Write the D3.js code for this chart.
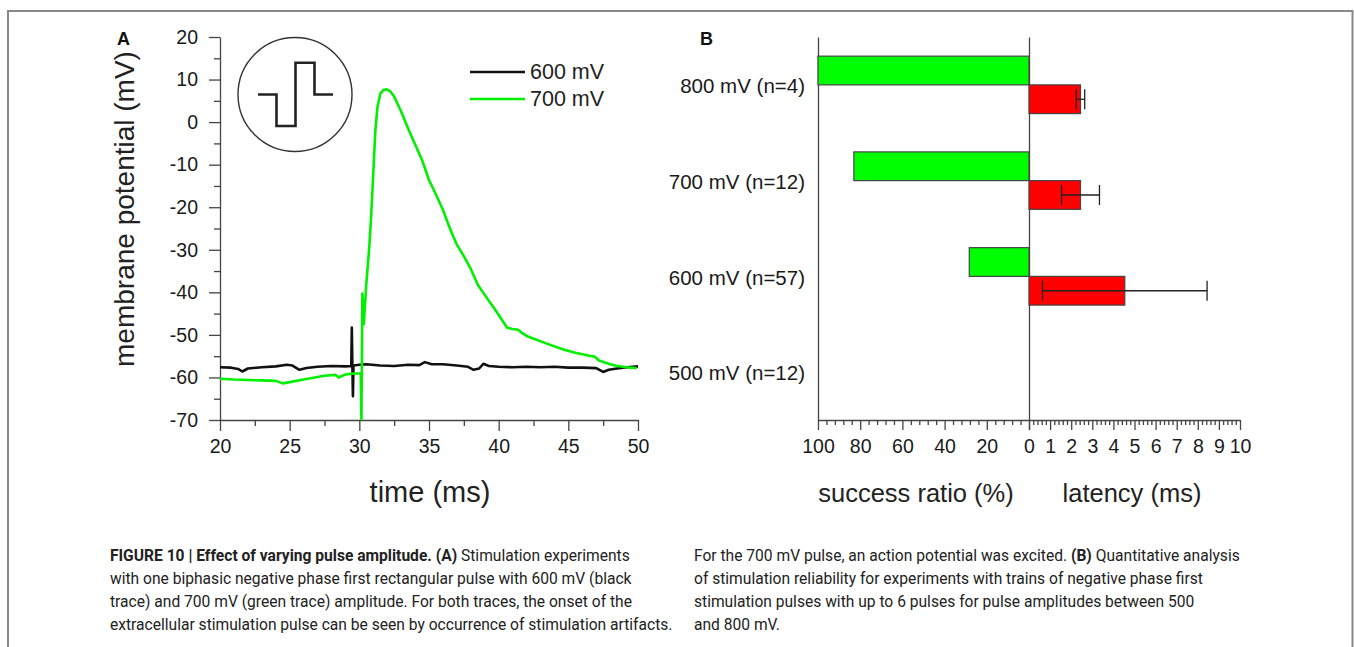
<!DOCTYPE html>
<html>
<head>
<meta charset="utf-8">
<script src="https://cdn.jsdelivr.net/npm/d3@7"></script>
<style>
  body { margin: 0; background: #fff; }
  svg { display: block; font-family: "Liberation Sans", Arial, sans-serif; }
  .axis path, .axis line { stroke: #444; stroke-width: 1.3; }
  .axis text { fill: #1a1a1a; font-family: "Liberation Sans", Arial, sans-serif; }
  .caption { font-family: Roboto, "Liberation Sans", sans-serif; font-size: 15.6px; fill: #222; }
</style>
</head>
<body>
<svg id="chart" width="1354" height="647"></svg>
<script>
// panel A: recorded traces, [time (ms), membrane potential (mV)]
var trace600 = [
  [20, -57.6], [20.8, -57.7], [21.3, -58.0], [21.6, -58.6], [22.0, -57.9], [23, -57.6],
  [24, -57.4], [24.8, -57.0], [25.2, -57.2], [25.7, -58.2], [26.2, -57.8], [27, -57.5],
  [28, -57.3], [29, -57.4], [29.42, -57.3], [29.46, -48.3], [29.5, -57.0], [29.54, -64.4],
  [29.58, -57.2], [30, -57.0], [30.5, -56.9], [31.5, -57.2], [32.5, -57.3], [33.5, -57.0],
  [34.3, -57.1], [34.7, -56.4], [35.2, -56.9], [36, -56.9], [37, -57.2], [37.8, -57.5],
  [38.2, -58.2], [38.6, -57.9], [38.9, -56.8], [39.3, -57.3], [40, -57.5], [41, -57.6],
  [42, -57.5], [43, -57.6], [44, -57.5], [45, -57.7], [46, -57.7], [47, -57.8],
  [47.5, -58.7], [47.9, -58.2], [48.5, -57.9], [49.2, -57.6], [50, -57.4]
];
var trace700 = [
  [20, -60.3], [21, -60.5], [22, -60.6], [23, -60.7], [24, -60.8], [24.5, -61.4],
  [25, -61.1], [26, -60.5], [27, -59.9], [27.5, -59.6], [28.3, -59.4], [28.5, -60.0],
  [29, -59.3], [29.5, -59.1], [30.1, -59.0], [30.15, -69.8], [30.22, -40.3], [30.32, -47.5],
  [30.5, -38], [30.7, -30], [30.85, -22], [31.0, -12], [31.15, -2], [31.3, 3.5],
  [31.5, 6.6], [31.7, 7.5], [31.95, 7.7], [32.2, 7.3], [32.5, 6.0], [33, 2.5],
  [33.5, -1.5], [34, -5.2], [34.5, -8.9], [35, -13.6], [35.5, -17], [36, -20.6],
  [36.5, -25], [37, -28.8], [37.5, -31.5], [38, -34.5], [38.5, -38.2], [39, -40.6],
  [39.6, -43.4], [40.1, -45.8], [40.6, -48.3], [41.0, -48.6], [41.4, -48.8], [41.7, -49.6],
  [42.1, -50.4], [43.4, -52], [44.7, -53.5], [45.5, -54.2], [46.5, -54.9], [46.9, -55.1],
  [47.2, -56.0], [48, -56.9], [48.5, -57.3], [49.2, -57.6], [49.9, -57.8]
];
var traceNames = ["600 mV", "700 mV"];
var traceColors = ["#111111", "#00f000"];
var timeTicks = [20, 25, 30, 35, 40, 45, 50];
var mvTicks = [-70, -60, -50, -40, -30, -20, -10, 0, 10, 20];

// panel B: stimulation reliability per pulse amplitude
var amplitudes = ["800 mV (n=4)", "700 mV (n=12)", "600 mV (n=57)", "500 mV (n=12)"];
var successRatio = [100, 83, 28.3, 0];
var latency = [2.44, 2.44, 4.54, null];
var latencySd = [0.2, 0.9, 3.9, null];
var ratioTicks = [100, 80, 60, 40, 20, 0];
var latencyTicks = [0, 1, 2, 3, 4, 5, 6, 7, 8, 9, 10];

var captionLeft = [
  [["FIGURE 10 | Effect of varying pulse amplitude. (A)", true], [" Stimulation experiments", false]],
  [["with one biphasic negative phase first rectangular pulse with 600 mV (black", false]],
  [["trace) and 700 mV (green trace) amplitude. For both traces, the onset of the", false]],
  [["extracellular stimulation pulse can be seen by occurrence of stimulation artifacts.", false]]
];
var captionRight = [
  [["For the 700 mV pulse, an action potential was excited. ", false], ["(B)", true], [" Quantitative analysis", false]],
  [["of stimulation reliability for experiments with trains of negative phase first", false]],
  [["stimulation pulses with up to 6 pulses for pulse amplitudes between 500", false]],
  [["and 800 mV.", false]]
];

var svg = d3.select("#chart");
svg.append("rect").attr("width", 1354).attr("height", 647).attr("fill", "#fff");

// figure frame
svg.append("path")
  .attr("d", "M8,647V11H1352.5V647")
  .attr("fill", "none").attr("stroke", "#888").attr("stroke-width", 2);

function fmt(d) { return String(d); }
function styleText(g, size) {
  g.selectAll("text").attr("font-size", size);
}

// ---------- panel A ----------
var xA = d3.scaleLinear().domain([20, 50]).range([220, 638]);
var yA = d3.scaleLinear().domain([-70, 20]).range([420, 37]);

var gyA = svg.append("g").attr("class", "axis").attr("transform", "translate(220,0)")
  .call(d3.axisLeft(yA).tickValues(mvTicks).tickSize(11).tickSizeOuter(0).tickPadding(11).tickFormat(fmt));
styleText(gyA, 19.5);
svg.append("g").attr("class", "axis").attr("transform", "translate(220,0)")
  .call(d3.axisLeft(yA).tickValues(d3.range(-65, 20, 10)).tickSize(6).tickFormat(""))
  .select(".domain").remove();

var gxA = svg.append("g").attr("class", "axis").attr("transform", "translate(0,420)")
  .call(d3.axisBottom(xA).tickValues(timeTicks).tickSize(11).tickSizeOuter(0).tickPadding(8).tickFormat(fmt));
styleText(gxA, 19.5);
svg.append("g").attr("class", "axis").attr("transform", "translate(0,420)")
  .call(d3.axisBottom(xA).tickValues(d3.range(22.5, 50, 5)).tickSize(6).tickFormat(""))
  .select(".domain").remove();

var line = d3.line().x(function(d) { return xA(d[0]); }).y(function(d) { return yA(d[1]); });
[trace600, trace700].forEach(function(tr, i) {
  svg.append("path").datum(tr)
    .attr("d", line)
    .attr("fill", "none")
    .attr("stroke", traceColors[i])
    .attr("stroke-width", 2.6)
    .attr("stroke-linejoin", "round");
});

svg.append("text").attr("x", 124).attr("y", 209)
  .attr("transform", "rotate(-90,124,209)")
  .attr("text-anchor", "middle").attr("dominant-baseline", "central")
  .attr("font-size", 28).attr("fill", "#222")
  .text("membrane potential (mV)");
svg.append("text").attr("x", 430).attr("y", 502)
  .attr("text-anchor", "middle").attr("font-size", 29).attr("fill", "#222")
  .text("time (ms)");
svg.append("text").attr("x", 117).attr("y", 45)
  .attr("font-size", 18).attr("font-weight", "bold").attr("fill", "#111").text("A");

// stimulus pulse inset
var inset = svg.append("g").attr("transform", "translate(295,94.5)");
inset.append("circle").attr("r", 57).attr("fill", "none").attr("stroke", "#333").attr("stroke-width", 1.4);
inset.append("path")
  .attr("d", "M-37,0H-18.5V31.5H0.5V-31.8H19.5V0H38")
  .attr("fill", "none").attr("stroke", "#222").attr("stroke-width", 2.6);

// legend
var legend = svg.append("g");
traceNames.forEach(function(name, i) {
  var yy = 72 + i * 27;
  legend.append("line").attr("x1", 470).attr("x2", 525).attr("y1", yy).attr("y2", yy)
    .attr("stroke", traceColors[i]).attr("stroke-width", 2.6);
  legend.append("text").attr("x", 530).attr("y", yy).attr("dominant-baseline", "central")
    .attr("font-size", 21.5).attr("fill", "#222").text(name);
});

// ---------- panel B ----------
var xRatio = d3.scaleLinear().domain([0, 100]).range([1029, 818]);
var xLat = d3.scaleLinear().domain([0, 10]).range([1029, 1240]);
var yB = d3.scaleBand().domain(amplitudes).range([37, 420]).padding(0);
var barH = yB.bandwidth() * 0.3;
function mid(a) { return yB(a) + yB.bandwidth() / 2; }

var gyB = svg.append("g").attr("class", "axis").attr("transform", "translate(818,0)")
  .call(d3.axisLeft(yB).tickSize(0).tickSizeOuter(0).tickPadding(13));
styleText(gyB, 20.5);
gyB.selectAll(".tick text").attr("dy", "0.4em");
svg.append("g").attr("class", "axis").attr("transform", "translate(1029,0)")
  .call(d3.axisRight(yB).tickSize(0).tickSizeOuter(0).tickFormat(""));

var gxR = svg.append("g").attr("class", "axis").attr("transform", "translate(0,420)")
  .call(d3.axisBottom(xRatio).tickValues(ratioTicks).tickSize(10).tickSizeOuter(0).tickPadding(9)
    .tickFormat(function(d) { return d === 0 ? "" : String(d); }));
styleText(gxR, 19.5);
svg.append("g").attr("class", "axis").attr("transform", "translate(0,420)")
  .call(d3.axisBottom(xRatio).tickValues(d3.range(4, 100, 4).filter(function(v) { return v % 20 !== 0; }))
    .tickSize(5).tickFormat(""))
  .select(".domain").remove();

var gxL = svg.append("g").attr("class", "axis").attr("transform", "translate(0,420)")
  .call(d3.axisBottom(xLat).tickValues(latencyTicks).tickSize(10).tickSizeOuter(0).tickPadding(9).tickFormat(fmt));
styleText(gxL, 19.5);
svg.append("g").attr("class", "axis").attr("transform", "translate(0,420)")
  .call(d3.axisBottom(xLat).tickValues(d3.range(0.2, 10, 0.2).filter(function(v) { return Math.abs(v - Math.round(v)) > 0.01; }))
    .tickSize(5).tickFormat(""))
  .select(".domain").remove();

// success ratio bars (green, to the left)
svg.selectAll(".ratio").data(amplitudes).enter().append("rect")
  .attr("class", "ratio")
  .attr("x", function(d, i) { return xRatio(successRatio[i]); })
  .attr("y", function(d) { return mid(d) - barH; })
  .attr("width", function(d, i) { return xRatio(0) - xRatio(successRatio[i]); })
  .attr("height", barH)
  .attr("fill", "#00ff00").attr("stroke", "#444").attr("stroke-width", 1.2)
  .style("display", function(d, i) { return successRatio[i] > 0 ? null : "none"; });

// latency bars (red, to the right)
var latIdx = d3.range(amplitudes.length).filter(function(i) { return latency[i] != null; });
svg.selectAll(".lat").data(latIdx).enter().append("rect")
  .attr("class", "lat")
  .attr("x", xLat(0))
  .attr("y", function(i) { return mid(amplitudes[i]); })
  .attr("width", function(i) { return xLat(latency[i]) - xLat(0); })
  .attr("height", barH)
  .attr("fill", "#ff0000").attr("stroke", "#444").attr("stroke-width", 1.2);

var err = svg.selectAll(".err").data(latIdx).enter().append("g").attr("class", "err")
  .attr("stroke", "#222").attr("stroke-width", 1.3);
err.append("line")
  .attr("x1", function(i) { return xLat(latency[i] - latencySd[i]); })
  .attr("x2", function(i) { return xLat(latency[i] + latencySd[i]); })
  .attr("y1", function(i) { return mid(amplitudes[i]) + barH / 2; })
  .attr("y2", function(i) { return mid(amplitudes[i]) + barH / 2; });
[-1, 1].forEach(function(s) {
  err.append("line")
    .attr("x1", function(i) { return xLat(latency[i] + s * latencySd[i]); })
    .attr("x2", function(i) { return xLat(latency[i] + s * latencySd[i]); })
    .attr("y1", function(i) { return mid(amplitudes[i]) + barH / 2 - 10; })
    .attr("y2", function(i) { return mid(amplitudes[i]) + barH / 2 + 10; });
});

svg.append("text").attr("x", 916).attr("y", 502).attr("text-anchor", "middle")
  .attr("font-size", 25.5).attr("fill", "#222").text("success ratio (%)");
svg.append("text").attr("x", 1132).attr("y", 502).attr("text-anchor", "middle")
  .attr("font-size", 25.5).attr("fill", "#222").text("latency (ms)");
svg.append("text").attr("x", 700).attr("y", 45)
  .attr("font-size", 18).attr("font-weight", "bold").attr("fill", "#111").text("B");

// ---------- caption ----------
function caption(lines, x0) {
  lines.forEach(function(parts, li) {
    var t = svg.append("text").attr("class", "caption").attr("x", x0).attr("y", 561 + li * 23);
    parts.forEach(function(p) {
      t.append("tspan").attr("font-weight", p[1] ? "bold" : null).text(p[0]);
    });
  });
}
caption(captionLeft, 110);
caption(captionRight, 694);
</script>
</body>
</html>
